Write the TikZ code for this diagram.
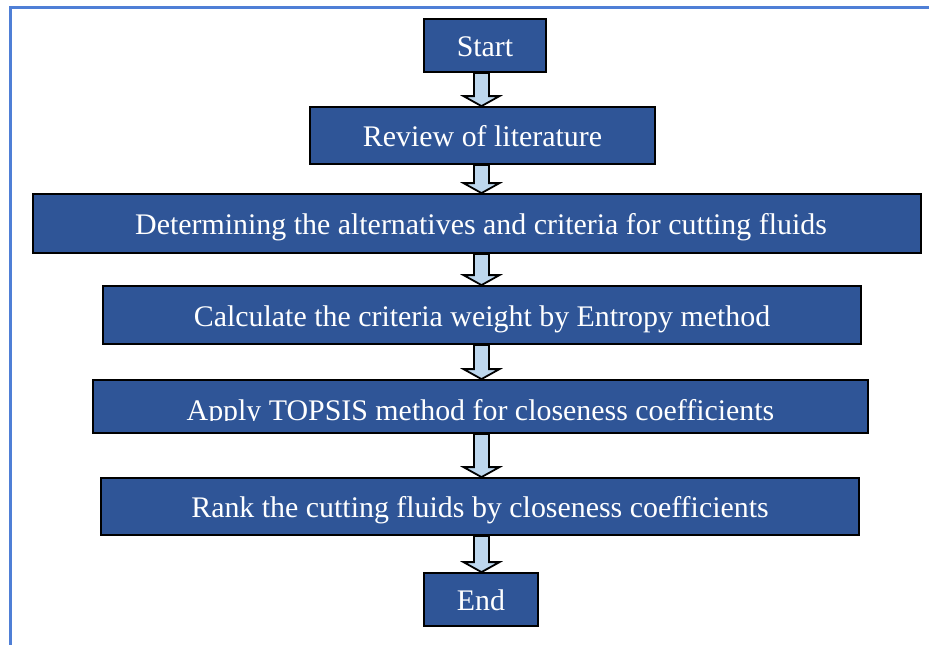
\documentclass[tikz,border=0pt]{standalone}
\usepackage{fontspec}
\setmainfont{Liberation Serif}
\usetikzlibrary{calc,shadows,backgrounds}
\definecolor{boxblue}{HTML}{2F5597}
\definecolor{arrowblue}{HTML}{BDD7EE}
\definecolor{framecol}{HTML}{4F7FD6}
\tikzset{
  stepbox/.style={draw=black, line width=1.8pt, fill=boxblue, text=white,
    font=\fontsize{29.9}{34}\selectfont, inner sep=0pt, text height=23pt, text depth=1pt,
    drop shadow={shadow xshift=1pt, shadow yshift=-1pt, fill=gray!60, opacity=1}},
  steptext/.style={text=white, font=\fontsize{29.9}{34}\selectfont, inner sep=0pt},
  blockarr/.style={draw=black, line width=1.8pt, fill=arrowblue, line join=miter},
  framestyle/.style={draw=framecol, line width=2.8pt}
}
\newcommand\blockarrow[2]{%
  \draw[blockarr] ($(#1.south -| ax)+(-7.5,0)$) -- ($(#2.north -| ax)+(-7.5,-10)$)
    -- ($(#2.north -| ax)+(-18,-10)$) -- (#2.north -| ax)
    -- ($(#2.north -| ax)+(18,-10)$) -- ($(#2.north -| ax)+(7.5,-10)$)
    -- ($(#1.south -| ax)+(7.5,0)$) -- cycle;}
\begin{document}
\begin{tikzpicture}[x=1pt,y=-1pt]
\useasboundingbox (0,0) rectangle (929,645);
\draw[framestyle] (10.5,646) -- (10.5,7.3) -- (930,7.3);
\coordinate (ax) at (481.5,0);
\node[stepbox, minimum width=122, minimum height=53] (start) at (485,45.5) {Start};
\node[stepbox, minimum width=345, minimum height=57] (review) at (482.5,135.5) {Review of literature};
\node[stepbox, minimum width=888, minimum height=59] (determine) at (477,223.5) {\hspace*{8pt}Determining the alternatives and criteria for cutting fluids};
\node[stepbox, minimum width=758, minimum height=58] (calc) at (482,315) {Calculate the criteria weight by Entropy method};
\node[stepbox, minimum width=775, minimum height=53] (apply) at (480.5,406.5) {};
\node[stepbox, minimum width=758, minimum height=57] (rank) at (480,506.5) {Rank the cutting fluids by closeness coefficients};
\node[stepbox, minimum width=114, minimum height=53] (end) at (481,599.5) {End};
\begin{scope}
  \clip (apply.north west) rectangle ($(apply.south east)+(0,-13)$);
  \node[steptext, anchor=base] (applytext) at (480.5,420) {Apply TOPSIS method for closeness coefficients};
\end{scope}
\begin{scope}[on background layer]
  \blockarrow{start}{review}
  \blockarrow{review}{determine}
  \blockarrow{determine}{calc}
  \blockarrow{calc}{apply}
  \blockarrow{apply}{rank}
  \blockarrow{rank}{end}
\end{scope}
\end{tikzpicture}
\end{document}
